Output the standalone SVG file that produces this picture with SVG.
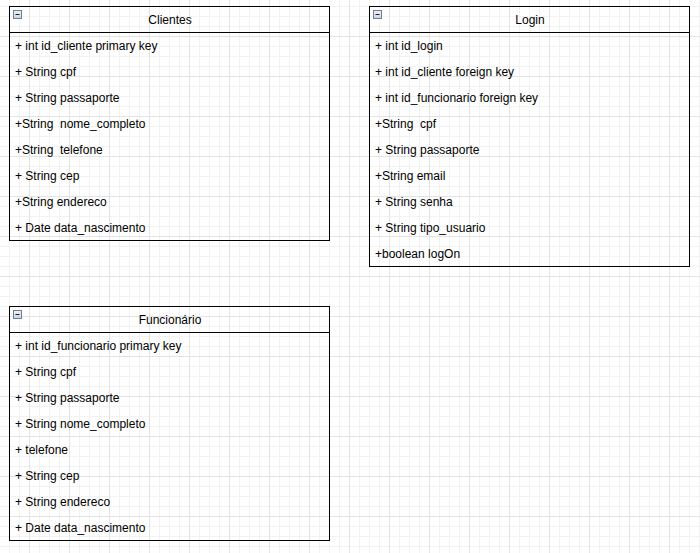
<svg xmlns="http://www.w3.org/2000/svg" width="700" height="553" viewBox="0 0 700 553">
<defs>
<pattern id="gMinor" x="9" y="6" width="10" height="10" patternUnits="userSpaceOnUse"><path d="M0.5 0V10M0 0.5H10" stroke="#f2f2f2" stroke-width="1" fill="none"/></pattern>
<pattern id="gMajor" x="29" y="36" width="40" height="40" patternUnits="userSpaceOnUse"><path d="M0.5 0V40M0 0.5H40" stroke="#e3e3e3" stroke-width="1" fill="none"/></pattern>
<linearGradient id="ic" x1="0" y1="0" x2="0" y2="1"><stop offset="0" stop-color="#eef2f7"/><stop offset="1" stop-color="#c9d3df"/></linearGradient>
<g id="icon"><rect x="0.5" y="0.5" width="8" height="8" fill="url(#ic)" stroke="#6e7f94" stroke-width="1"/><path d="M2.5 4.5H6.5" stroke="#222" stroke-width="1"/></g>
</defs>
<style>
.box{fill:none;stroke:#000;stroke-width:1}
.t{font-family:"Liberation Sans",Arial,sans-serif;font-size:12px;fill:#000;white-space:pre}
.h{text-anchor:middle}
</style>
<rect width="700" height="553" fill="#fff"/>
<rect width="700" height="553" fill="url(#gMinor)"/>
<rect width="700" height="553" fill="url(#gMajor)"/>
<g id="connectors"></g>
<g id="clientes">
<rect class="box" x="9.5" y="6.5" width="320" height="234"/>
<path class="box" d="M9.5 32.5H329.5"/>
<use href="#icon" x="13" y="10"/>
<text class="t h" x="170" y="24">Clientes</text>
<text class="t" x="15" y="50">+ int id_cliente primary key</text>
<text class="t" x="15" y="76">+ String cpf</text>
<text class="t" x="15" y="102">+ String passaporte</text>
<text class="t" x="15" y="128" xml:space="preserve">+String  nome_completo</text>
<text class="t" x="15" y="154" xml:space="preserve">+String  telefone</text>
<text class="t" x="15" y="180">+ String cep</text>
<text class="t" x="15" y="206">+String endereco</text>
<text class="t" x="15" y="232">+ Date data_nascimento</text>
</g>
<g id="login">
<rect class="box" x="369.5" y="6.5" width="320" height="260"/>
<path class="box" d="M369.5 32.5H689.5"/>
<use href="#icon" x="373" y="10"/>
<text class="t h" x="530" y="24">Login</text>
<text class="t" x="375" y="50">+ int id_login</text>
<text class="t" x="375" y="76">+ int id_cliente foreign key</text>
<text class="t" x="375" y="102">+ int id_funcionario foreign key</text>
<text class="t" x="375" y="128" xml:space="preserve">+String  cpf</text>
<text class="t" x="375" y="154">+ String passaporte</text>
<text class="t" x="375" y="180">+String email</text>
<text class="t" x="375" y="206">+ String senha</text>
<text class="t" x="375" y="232">+ String tipo_usuario</text>
<text class="t" x="375" y="258">+boolean logOn</text>
</g>
<g id="funcionario">
<rect class="box" x="9.5" y="306.5" width="320" height="234"/>
<path class="box" d="M9.5 332.5H329.5"/>
<use href="#icon" x="13" y="310"/>
<text class="t h" x="170" y="324">Funcionário</text>
<text class="t" x="15" y="350">+ int id_funcionario primary key</text>
<text class="t" x="15" y="376">+ String cpf</text>
<text class="t" x="15" y="402">+ String passaporte</text>
<text class="t" x="15" y="428">+ String nome_completo</text>
<text class="t" x="15" y="454">+ telefone</text>
<text class="t" x="15" y="480">+ String cep</text>
<text class="t" x="15" y="506">+ String endereco</text>
<text class="t" x="15" y="532">+ Date data_nascimento</text>
</g>
</svg>
